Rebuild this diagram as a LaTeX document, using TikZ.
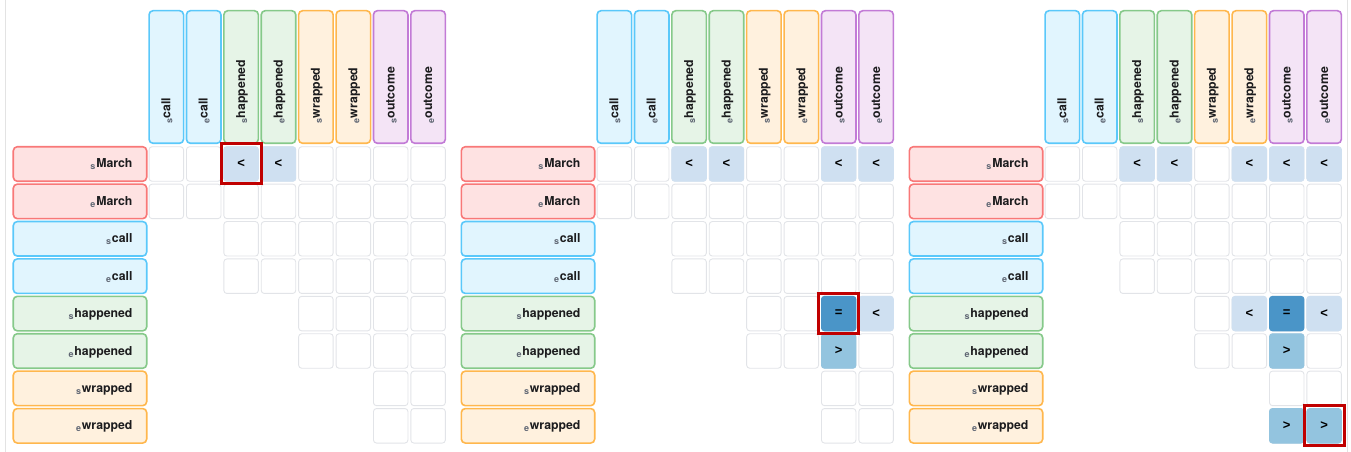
\documentclass[tikz,border=0pt]{standalone}
\usepackage{fontspec}
\setmainfont{TeX Gyre Heros}
\newfontfamily\symfont{Liberation Sans}
\definecolor{B-red}{HTML}{F87878}
\definecolor{F-red}{HTML}{FEE2E2}
\definecolor{B-blue}{HTML}{5AC8FA}
\definecolor{F-blue}{HTML}{E1F5FE}
\definecolor{B-green}{HTML}{86C98A}
\definecolor{F-green}{HTML}{E6F4E7}
\definecolor{B-orange}{HTML}{FFB74D}
\definecolor{F-orange}{HTML}{FFF1DE}
\definecolor{B-purple}{HTML}{C27BD6}
\definecolor{F-purple}{HTML}{F4E4F6}
\definecolor{cellgray}{HTML}{E2E4E8}
\definecolor{ltcol}{HTML}{CFE0F1}
\definecolor{eqcol}{HTML}{4A95C8}
\definecolor{gtcol}{HTML}{93C4DF}
\definecolor{hlcol}{HTML}{C00000}
\definecolor{subgray}{HTML}{5F6673}
\definecolor{txtcol}{HTML}{1C1C1E}
\definecolor{sepgray}{HTML}{E3E3E3}
\newcommand\lblsub[1]{\raisebox{-2bp}{\fontsize{9bp}{9bp}\selectfont\color{subgray}#1}\kern0.8bp}
\begin{document}
\begin{tikzpicture}[x=1bp,y=-1bp,
  font=\fontsize{12.3bp}{14bp}\selectfont\bfseries,
  lab/.style={rounded corners=4bp, line width=1.6bp, minimum width=133.4bp,
    minimum height=34.5bp, inner sep=0pt, text width=105bp, align=right,
    text height=10bp, text depth=2bp, text=txtcol},
  hdr/.style={rotate=90, rounded corners=4bp, line width=1.6bp, minimum width=132.6bp,
    minimum height=34.5bp, inner sep=0pt, text width=94bp, align=left,
    text height=10bp, text depth=2bp, text=txtcol},
  cell/.style={draw=cellgray, fill=white, rounded corners=3bp, line width=0.9bp,
    minimum width=34.5bp, minimum height=34.5bp, inner sep=0pt},
  val/.style={rounded corners=3bp, line width=0.9bp, minimum width=34.5bp,
    minimum height=34.5bp, inner sep=0pt, text=black,
    font=\symfont\fontsize{13bp}{14bp}\selectfont\bfseries},
  hlbox/.style={draw=hlcol, line width=3bp, minimum width=40bp, minimum height=40bp, inner sep=0pt},
  sepline/.style={draw=sepgray, line width=1bp}]
\useasboundingbox (0,0) rectangle (1351,452);
\draw[sepline] (5.5,0) -- (5.5,452);
\draw[sepline] (1347,0) -- (1347,452);
\foreach \p in {0,1,2} {
  % row labels
  \foreach \r/\s/\w/\cl in {0/s/March/red,1/e/March/red,2/s/call/blue,3/e/call/blue,
      4/s/happened/green,5/e/happened/green,6/s/wrapped/orange,7/e/wrapped/orange} {
    \node[lab, draw=B-\cl, fill=F-\cl] (L\p-\r) at ({80+448*\p},{164+37.4*\r}) {\lblsub{\s}\w};
  }
  % column headers
  \foreach \j/\s/\w/\cl in {0/s/call/blue,1/e/call/blue,2/s/happened/green,3/e/happened/green,
      4/s/wrapped/orange,5/e/wrapped/orange,6/s/outcome/purple,7/e/outcome/purple} {
    \node[hdr, draw=B-\cl, fill=F-\cl] (H\p-\j) at ({166.3+37.4*\j+448*\p},77) {\lblsub{\s}\w};
  }
  % empty cells
  \foreach \r in {0,...,7} {
    \pgfmathtruncatemacro\st{2*int(\r/2)}
    \foreach \j in {\st,...,7} {
      \node[cell] (C\p-\r-\j) at ({166.3+37.4*\j+448*\p},{164+37.4*\r}) {};
    }
  }
}
% filled cells
\foreach \p/\r/\j/\k/\sym in {
    0/0/2/ltcol/<, 0/0/3/ltcol/<,
    1/0/2/ltcol/<, 1/0/3/ltcol/<, 1/0/6/ltcol/<, 1/0/7/ltcol/<,
    1/4/6/eqcol/=, 1/4/7/ltcol/<, 1/5/6/gtcol/>,
    2/0/2/ltcol/<, 2/0/3/ltcol/<, 2/0/5/ltcol/<, 2/0/6/ltcol/<, 2/0/7/ltcol/<,
    2/4/5/ltcol/<, 2/4/6/eqcol/=, 2/4/7/ltcol/<, 2/5/6/gtcol/>,
    2/7/6/gtcol/>, 2/7/7/gtcol/>} {
  \node[val, draw=\k, fill=\k] (V\p-\r-\j) at (C\p-\r-\j) {\sym};
}
% highlight boxes
\node[hlbox] (HL0) at (C0-0-2) {};
\node[hlbox] (HL1) at (C1-4-6) {};
\node[hlbox] (HL2) at (C2-7-7) {};
\end{tikzpicture}
\end{document}
